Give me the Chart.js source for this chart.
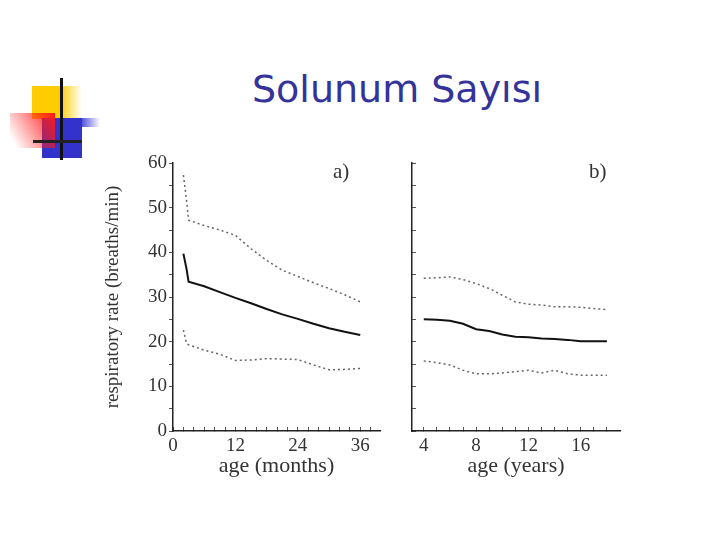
<!DOCTYPE html>
<html>
<head>
<meta charset="utf-8">
<script src="https://cdn.jsdelivr.net/npm/chart.js@4.4.0/dist/chart.umd.min.js"></script>
<style>
  body { margin: 0; background: #fff; width: 720px; height: 540px; position: relative; overflow: hidden; }
  .abs { position: absolute; }
  #title { left: 197px; top: 69px; width: 400px; text-align: center; font: 38px "DejaVu Sans", sans-serif; line-height: 40px; color: #333399; }
  .tag { font: 21px "Liberation Serif", serif; color: #333; line-height: 22px; }
</style>
</head>
<body>

<!-- slide logo -->
<div class="abs" style="left:32px;top:86px;width:50px;height:33px;background:linear-gradient(to right,#ffcc00 55%,rgba(255,204,0,0) 100%)"></div>
<div class="abs" style="left:42px;top:118px;width:40px;height:40px;background:#3333cc"></div>
<div class="abs" style="left:82px;top:118px;width:18px;height:9px;background:linear-gradient(to right,#5555dd,rgba(85,85,221,0))"></div>
<div class="abs" style="left:10px;top:113px;width:45px;height:35px;background:linear-gradient(60deg,rgba(255,60,60,0) 10%,#ff1a1a 100%)"></div>
<div class="abs" style="left:60px;top:78px;width:3px;height:82px;background:#111"></div>
<div class="abs" style="left:33px;top:140px;width:49px;height:3px;background:#222"></div>

<div id="title" class="abs">Solunum Sayısı</div>

<div class="abs" style="left:90px;top:140px;width:300px;height:350px"><canvas id="chartA" width="300" height="350"></canvas></div>
<div class="abs" style="left:400px;top:140px;width:230px;height:350px"><canvas id="chartB" width="230" height="350"></canvas></div>

<div class="abs tag" style="left:333px;top:160px">a)</div>
<div class="abs tag" style="left:589px;top:160px">b)</div>

<script>
// a) 0-36 months
var monthsA = [2, 2.6, 3, 6, 9, 12, 15, 18, 21, 24, 27, 30, 33, 36];
var upperA  = [57.3, 51.7, 47.2, 46, 45, 43.8, 40.8, 38.2, 36, 34.6, 33.2, 31.9, 30.5, 28.9];
var medianA = [39.7, 36.3, 33.4, 32.4, 31.1, 29.8, 28.6, 27.3, 26.1, 25.1, 24, 23, 22.2, 21.5];
var lowerA  = [22.6, 19.6, 19.3, 18.1, 17.2, 15.8, 15.9, 16.2, 16.1, 16, 14.8, 13.7, 13.8, 14];

// b) 4-18 years
var yearsB  = [4, 5, 6, 7, 8, 9, 10, 11, 12, 13, 14, 15, 16, 17, 18];
var upperB  = [34.2, 34.3, 34.5, 33.9, 33, 31.9, 30.4, 28.9, 28.4, 28.2, 27.8, 27.8, 27.7, 27.4, 27.2];
var medianB = [25, 24.9, 24.7, 24, 22.8, 22.4, 21.6, 21.1, 21, 20.7, 20.6, 20.4, 20.1, 20.1, 20.1];
var lowerB  = [15.7, 15.3, 14.8, 13.6, 12.8, 12.8, 13, 13.3, 13.6, 13, 13.6, 12.8, 12.5, 12.5, 12.5];

// tick marks
var rateTicks   = [0, 5, 10, 15, 20, 25, 30, 35, 40, 45, 50, 55, 60];
var monthTicks  = [0, 2, 4, 6, 8, 10, 12, 14, 16, 18, 20, 22, 24, 26, 28, 30, 32, 34, 36, 38];
var yearTicks   = [4, 5, 6, 7, 8, 9, 10, 11, 12, 13, 14, 15, 16, 17, 18];

var serif = "'Liberation Serif', serif";

function points(xs, ys){
    return xs.map(function(x, i){ return {x: x, y: ys[i]}; });
}

function lineSets(xs, upper, median, lower){
    var dotted = {borderColor: '#666', borderWidth: 1.5, borderDash: [2, 3], pointRadius: 0, tension: 0, fill: false};
    return [
        Object.assign({label: 'upper', data: points(xs, upper)}, dotted),
        {label: 'median', data: points(xs, median), borderColor: '#111', borderWidth: 2, pointRadius: 0, tension: 0, fill: false},
        Object.assign({label: 'lower', data: points(xs, lower)}, dotted)
    ];
}

function setTicks(list){
    return function(scale){
        scale.ticks = list.map(function(v){ return {value: v}; });
    };
}

function createChart(obj){
    return new Chart(document.getElementById(obj.id), {
        type: 'line',
        data: { datasets: obj.datasets },
        options: {
            responsive: false,
            animation: false,
            events: [],
            layout: { padding: {left: 0, right: 10, top: 23, bottom: 0} },
            plugins: { legend: {display: false}, tooltip: {enabled: false} },
            scales: {
                x: {
                    type: 'linear',
                    min: obj.xMin,
                    max: obj.xMax,
                    afterBuildTicks: setTicks(obj.xTicks),
                    afterFit: function(s){ s.height = 59; },
                    border: {color: '#222', width: 1.5},
                    grid: {drawOnChartArea: false, tickLength: -4, color: '#555', lineWidth: 1},
                    ticks: {
                        autoSkip: false, maxRotation: 0, padding: 8, color: '#333',
                        font: {family: serif, size: 19},
                        callback: obj.xLabel
                    },
                    title: {display: true, text: obj.xTitle, color: '#333', font: {family: serif, size: 22}, padding: {top: 0, bottom: 11}}
                },
                y: {
                    min: 0,
                    max: 60,
                    afterBuildTicks: setTicks(rateTicks),
                    afterFit: function(s){ s.width = obj.yWidth; },
                    border: {color: '#222', width: 1.5},
                    grid: {drawOnChartArea: false, tickLength: obj.yTickLength, color: '#555', lineWidth: 1},
                    ticks: {
                        display: obj.yLabels, autoSkip: false, padding: 2, color: '#333',
                        font: {family: serif, size: 19},
                        callback: function(v){ return v % 10 === 0 ? v : ''; }
                    },
                    title: {display: obj.yLabels, text: 'respiratory rate (breaths/min)', color: '#333', font: {family: serif, size: 19}, padding: {top: 12, bottom: 0}}
                }
            }
        }
    });
}

var chartA = createChart({
    id: 'chartA',
    datasets: lineSets(monthsA, upperA, medianA, lowerA),
    xMin: 0, xMax: 39.8,
    xTicks: monthTicks,
    xLabel: function(v){ return v % 12 === 0 ? v : ''; },
    xTitle: 'age (months)',
    yWidth: 83, yTickLength: 4, yLabels: true
});

var chartB = createChart({
    id: 'chartB',
    datasets: lineSets(yearsB, upperB, medianB, lowerB),
    xMin: 3.1, xMax: 19,
    xTicks: yearTicks,
    xLabel: function(v){ return v % 4 === 0 ? v : ''; },
    xTitle: 'age (years)',
    yWidth: 12, yTickLength: -4, yLabels: false
});
</script>
</body>
</html>
